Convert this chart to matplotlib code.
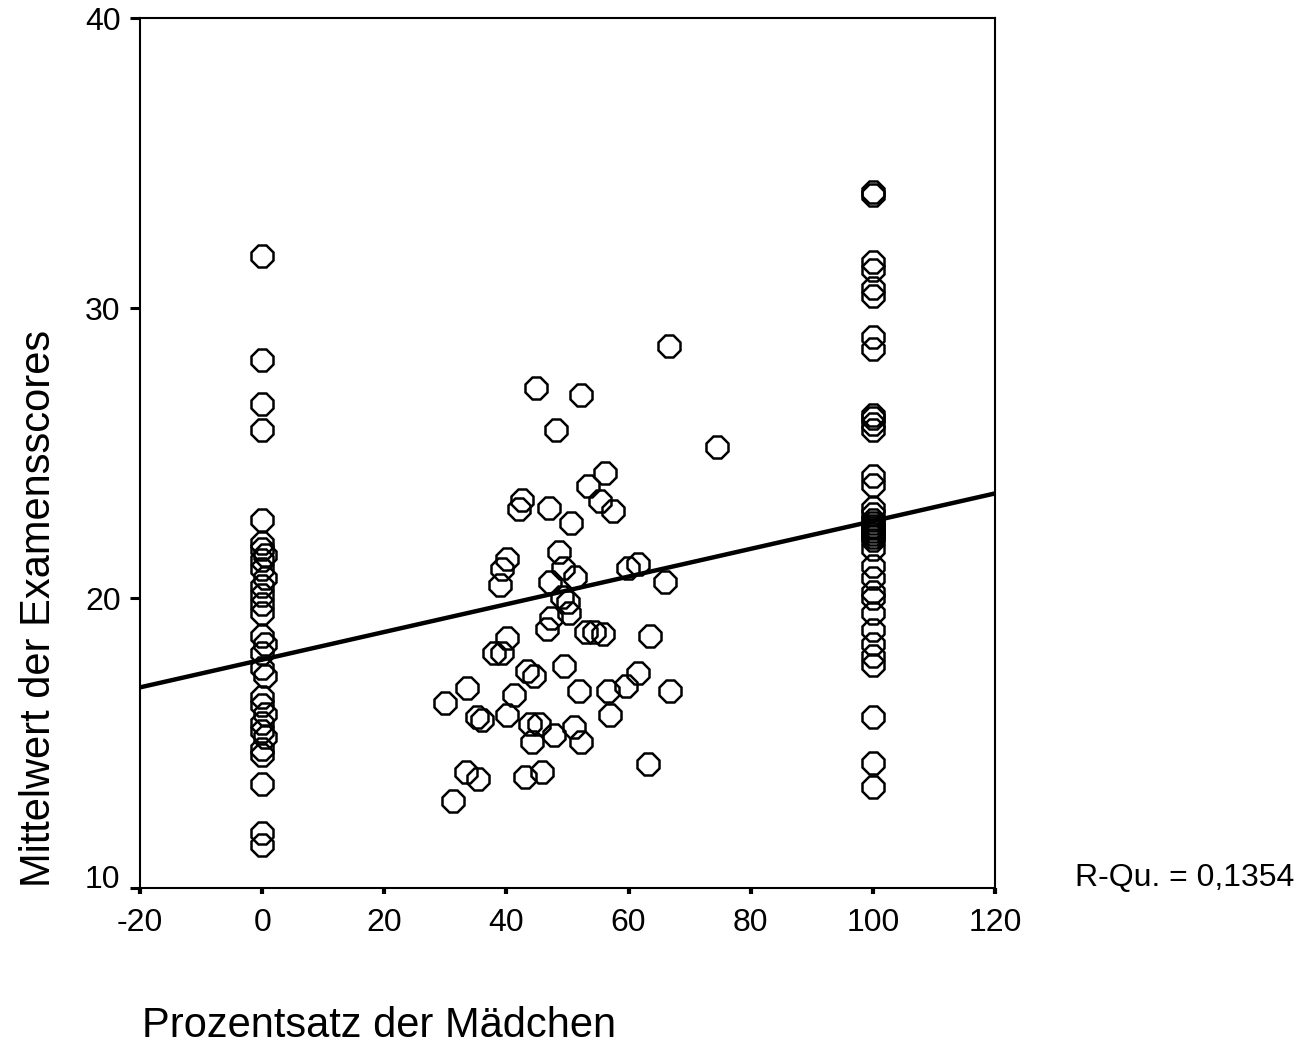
import numpy as np
import matplotlib
matplotlib.use("Agg")
import matplotlib.pyplot as plt

plt.rcParams['font.family'] = ['Liberation Sans', 'DejaVu Sans']

# Schools with 0 % girls
x_zero = [0, 0, 0, 0, 0, 0, 0, 0.5, 0, 0, 0.5, 0, 0, 0, 0, 0, 0.5, 0, 0, 0.5, 0, 0, 0.5, 0, 0, 0.5, 0, 0, 0, 0, 0]
y_zero = [31.8, 28.2, 26.7, 25.8, 22.7, 21.9, 21.7, 21.5, 21.3, 21.0, 20.7, 20.4, 20.1, 19.8, 19.5,
          18.7, 18.4, 18.1, 17.6, 17.3, 16.6, 16.3, 16.0, 15.7, 15.4, 15.2, 14.8, 14.6, 13.6, 11.9, 11.5]

# Schools with 100 % girls
y_hundred = [34.0, 33.9, 31.6, 31.3, 30.7, 30.4, 29.0, 28.6, 26.3, 26.2, 26.0, 25.8, 24.2, 23.9, 23.1,
             22.9, 22.7, 22.6, 22.5, 22.4, 22.3, 22.2, 22.1, 22.0, 21.7, 21.1, 20.7, 20.2, 20.0, 19.5,
             18.9, 18.4, 18.0, 17.7, 15.9, 14.3, 13.5]
x_hundred = [100] * len(y_hundred)

# Mixed schools
x_mixed = [66.7, 44.9, 52.2, 48.1, 74.4, 56.2, 53.4, 55.4, 57.5, 42.6, 42.1, 47.0, 50.6, 48.6, 40.1,
           39.3, 38.9, 49.3, 51.3, 47.2, 59.9, 61.5, 65.9, 49.1, 50.0, 50.2, 47.3, 46.6, 53.1, 54.3,
           55.8, 63.5, 40.1, 38.0, 39.3, 43.3, 44.5, 49.4, 61.5, 59.5, 33.6, 41.3, 30.0, 51.9, 56.6,
           66.8, 35.2, 36.0, 40.1, 57.0, 43.8, 45.3, 51.0, 47.8, 44.2, 52.2, 63.1, 33.3, 35.3, 43.0,
           45.9, 31.2]
y_mixed = [28.7, 27.25, 27.0, 25.8, 25.2, 24.3, 23.86, 23.36, 23.0, 23.38, 23.07, 23.09, 22.58, 21.58, 21.33,
           21.0, 20.45, 21.02, 20.73, 20.56, 21.02, 21.16, 20.54, 20.05, 19.87, 19.5, 19.3, 18.92, 18.84, 18.84,
           18.76, 18.69, 18.61, 18.09, 18.09, 17.49, 17.31, 17.66, 17.43, 16.97, 16.89, 16.66, 16.39, 16.8, 16.8,
           16.8, 15.89, 15.79, 15.97, 15.97, 15.66, 15.66, 15.56, 15.28, 15.02, 15.02, 14.28, 14.01, 13.75, 13.84,
           14.01, 13.01]

x_ticks = [-20, 0, 20, 40, 60, 80, 100, 120]
y_ticks = [10, 20, 30, 40]
r_text = "R-Qu. = 0,1354"

x_all = np.array(x_zero + x_hundred + x_mixed, dtype=float)
y_all = np.array(y_zero + y_hundred + y_mixed, dtype=float)

fig = plt.figure(figsize=(12.99, 10.47), dpi=100)
ax = fig.add_axes([140/1299, 1 - 888/1047, (995-140)/1299, (888-18)/1047])

ax.plot(x_all, y_all, linestyle='none', marker='8', markersize=16.5,
        markerfacecolor='none', markeredgecolor='black', markeredgewidth=1.8, zorder=3)

slope, intercept = np.polyfit(x_all, y_all, 1)
xl = np.array([-20, 120])
ax.plot(xl, intercept + slope * xl, color='black', lw=3.2, zorder=4)

ax.set_xlim(-20, 120)
ax.set_ylim(10, 40)
ax.set_xticks(x_ticks)
ax.set_yticks(y_ticks)
ax.set_xticklabels([str(t) for t in x_ticks])
ax.set_yticklabels([str(t) for t in y_ticks])
ax.tick_params(axis='x', direction='out', length=4.5, width=3, labelsize=23, pad=10)
ax.tick_params(axis='y', direction='out', length=7, width=2.2, labelsize=23, pad=7)
ax.get_yticklabels()[0].set_va('baseline')
for s in ax.spines.values():
    s.set_linewidth(1.5)

fig.text(1075/1299, 1 - 886/1047, r_text, fontsize=23, ha='left', va='baseline')
fig.text(39/1299, 1 - 608/1047, "Mittelwert der Examensscores", fontsize=30,
         rotation=90, ha='center', va='center')
fig.text(142/1299, 1 - 1037/1047, "Prozentsatz der Mädchen", fontsize=30,
         ha='left', va='baseline')

fig.savefig("out.png", dpi=100)
